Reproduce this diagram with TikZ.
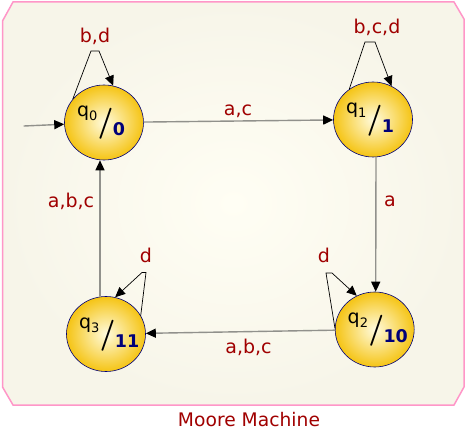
\documentclass[tikz,border=0pt]{standalone}
\usepackage{fontspec}
\setmainfont{DejaVu Sans}
\usetikzlibrary{shapes.geometric, arrows.meta, calc}

\definecolor{lblred}{RGB}{160,0,0}
\definecolor{outblue}{RGB}{0,0,120}
\definecolor{edgegray}{RGB}{145,145,140}
\definecolor{framepink}{RGB}{255,150,200}
\definecolor{bgcream}{RGB}{255,254,244}
\definecolor{bgedge}{RGB}{247,245,233}
\definecolor{stategold}{RGB}{245,196,20}
\definecolor{statelight}{RGB}{255,251,222}

\newcommand{\mooreout}[2]{\smash{\makebox[0pt][l]{\hspace{-27pt}\raisebox{5.5pt}{q}\raisebox{1.5pt}{\fontsize{13}{13}\selectfont #1}\hspace{0.5pt}\raisebox{-9.3pt}{\fontfamily{lmr}\fontseries{b}\fontsize{31}{31}\selectfont /}\hspace{-0.5pt}\raisebox{-13.5pt}{\fontsize{17.5}{18}\selectfont\bfseries\color{outblue}#2}}}}

\begin{document}
\begin{tikzpicture}[x=1pt, y=-1pt, line cap = round,
		state/.style={ellipse, draw=outblue, line width=0.6pt, minimum width=79pt, minimum height=75pt, inner sep=0pt, inner color=statelight, outer color=stategold, font=\fontsize{19}{19}\selectfont},
		edge/.style={draw=edgegray, line width=1.4pt, -{Triangle[length=10pt, width=9pt, color=black]}},
		selfloop/.style={draw=black, line width=0.7pt, -{Triangle[length=10pt, width=9pt]}},
		lbl/.style={anchor=base, inner sep=0pt, text=lblred, font=\fontsize{19}{19}\selectfont}]
		\useasboundingbox (0,0) rectangle (466,430);
		
		\path[draw=framepink, line width=1.5pt, inner color=bgcream, outer color=bgedge] (13,2) -- (454,2) -- (464,19) -- (464,387) -- (454,405) -- (13,405) -- (2.5,387) -- (2.5,21) -- cycle;
		
		\node[state] (q0) at (104,122.5) {\mooreout{0}{0}};
		\node[state] (q1) at (373,119.5) {\mooreout{1}{1}};
		\node[state] (q2) at (374.7,329.5) {\mooreout{2}{10}};
		\node[state] (q3) at (106,334) {\mooreout{3}{11}};
		\coordinate (start) at (24,126);
		
		\draw[edge] (start) -- (q0);
		\draw[edge] (q0) -- (q1);
		\draw[edge] ([xshift=3pt]q1.south) -- ([xshift=1pt]q2.north);
		\draw[edge] (q2) -- (q3);
		\draw[edge] ([xshift=-6pt]q3.north) -- ([xshift=-4pt]q0.south);
		
		\draw[selfloop] (q0.143) -- ($(q0)+(-13,-71.5)$) -- ($(q0)+(-5,-71.5)$) -- (q0.76);
		\draw[selfloop] (q1.128) -- ($(q1)+(-8,-77.5)$) -- ($(q1)+(2,-77.5)$) -- (q1.61);
		\draw[selfloop] (q2.178) -- ($(q2)+(-48.7,-56.5)$) -- ($(q2)+(-42.7,-56.5)$) -- (q2.118);
		\draw[selfloop] (q3.28) -- ($(q3)+(40,-61.5)$) -- ($(q3)+(36,-61.5)$) -- (q3.76);
		
		\node[lbl] (lbd) at (95,43) {b,d};
		\node[lbl] (lbcd) at (377,34) {b,c,d};
		\node[lbl] (lac) at (238,116) {a,c};
		\node[lbl] (la) at (390,207) {a};
		\node[lbl] (ldtwo) at (324,263) {d};
		\node[lbl] (labcbot) at (248.5,353) {a,b,c};
		\node[lbl] (labcleft) at (71,208) {a,b,c};
		\node[lbl] (ldthree) at (146,263) {d};
		\node[lbl, font=\fontsize{18.7}{19}\selectfont] (title) at (249,426) {Moore Machine};
	\end{tikzpicture}
\end{document}
